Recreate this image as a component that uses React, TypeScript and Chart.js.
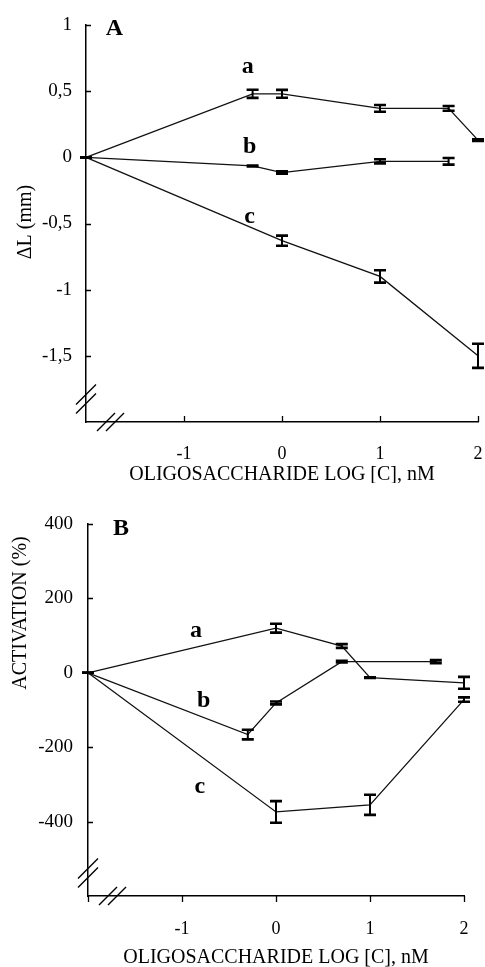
import React, { useEffect, useRef } from 'react';
import { Chart, registerables } from 'chart.js';

Chart.register(...registerables);

// ---------------- Panel A : ΔL (mm) ----------------
const A_X_a = [-2, -0.3, 0, 1, 1.7, 2];
const A_Y_a = [0, 0.48, 0.48, 0.37, 0.37, 0.13];
const A_E_a = [0, 0.031, 0.03, 0.025, 0.018, 0.007];

const A_X_b = [-2, -0.3, 0, 1, 1.7];
const A_Y_b = [0, -0.065, -0.115, -0.03, -0.03];
const A_E_b = [0, 0.003, 0.009, 0.016, 0.025];

const A_X_c = [-2, 0, 1, 2];
const A_Y_c = [0, -0.63, -0.9, -1.5];
const A_E_c = [0, 0.038, 0.047, 0.091];

const A_Y_TICKS = [1, 0.5, 0, -0.5, -1, -1.5];
const A_X_TICKS = [-1, 0, 1, 2];
const A_X_MARKS = [-1, 0, 1, 2];

// ---------------- Panel B : ACTIVATION (%) ----------------
const B_X_a = [-2, 0, 0.7, 1, 2];
const B_Y_a = [0, 120, 72, -13, -27];
const B_E_a = [0, 12, 5, 1, 16];

const B_X_b = [-2, -0.3, 0, 0.7, 1.7];
const B_Y_b = [0, -166, -81, 30, 30];
const B_E_b = [0, 13, 4, 2, 4];

const B_X_c = [-2, 0, 1, 2];
const B_Y_c = [0, -374, -355, -72];
const B_E_c = [0, 29, 27, 6];

const B_Y_TICKS = [400, 200, 0, -200, -400];
const B_X_TICKS = [-1, 0, 1, 2];
const B_X_MARKS = [-2, -1, 0, 1, 2];

// ---------------- Text ----------------
const X_TITLE = 'OLIGOSACCHARIDE LOG [C], nM';
const A_Y_TITLE = 'ΔL (mm)';
const B_Y_TITLE = 'ACTIVATION (%)';
const SERIES_NAMES = ['a', 'b', 'c'];

// annotation anchors (data units, text baseline)
const A_NOTE_X = [-0.35, -0.33, -0.33];
const A_NOTE_Y = [0.634, 0.03, -0.498];
const B_NOTE_X = [-0.85, -0.77, -0.81];
const B_NOTE_Y = [97, -91, -322];
const A_PANEL = { text: 'A', x: -1.71, y: 0.928 };
const B_PANEL = { text: 'B', x: -1.65, y: 370 };

const FONT = '"Liberation Serif", "Times New Roman", serif';
const W = 485;

type Spec = {
  height: number;
  area: { left: number; top: number; right: number; bottom: number };
  xs: number[][];
  ys: number[][];
  es: number[][];
  yMin: number;
  yMax: number;
  yTicks: number[];
  xTicks: number[];
  xMarks: number[];
  xMarksOut: boolean;
  xTickPad: number;
  yTickPad: number;
  yTitle: string;
  yTitlePos: { x: number; y: number };
  xTitleBaseline: number;
  noteX: number[];
  noteY: number[];
  panel: { text: string; x: number; y: number };
};

function fmt(v: number) {
  return String(v).replace('.', ',');
}

function buildChart(canvas: HTMLCanvasElement, s: Spec) {
  const datasets = s.xs.map((xArr, k) => ({
    label: SERIES_NAMES[k],
    data: xArr.map((x, i) => ({ x, y: s.ys[k][i] })),
    errors: s.es[k],
    borderColor: '#111',
    borderWidth: 1.3,
    pointRadius: 0,
    fill: false,
    tension: 0,
    clip: false as any,
  }));

  const decor = {
    id: 'decor',
    afterDraw(chart: any) {
      const ctx = chart.ctx as CanvasRenderingContext2D;
      const xs = chart.scales.x;
      const ys = chart.scales.y;
      const { left, right, top, bottom } = chart.chartArea;
      ctx.save();
      ctx.strokeStyle = '#000';
      ctx.fillStyle = '#000';
      ctx.lineCap = 'butt';

      // error bars
      chart.data.datasets.forEach((ds: any) => {
        ds.data.forEach((p: any, i: number) => {
          const e = ds.errors[i];
          const px = xs.getPixelForValue(p.x);
          const y1 = ys.getPixelForValue(p.y + e);
          const y2 = ys.getPixelForValue(p.y - e);
          ctx.lineWidth = 2;
          ctx.beginPath();
          ctx.moveTo(px, y1);
          ctx.lineTo(px, y2);
          ctx.stroke();
          ctx.lineWidth = 2.6;
          ctx.beginPath();
          ctx.moveTo(px - 6, y1);
          ctx.lineTo(px + 6, y1);
          ctx.moveTo(px - 6, y2);
          ctx.lineTo(px + 6, y2);
          ctx.stroke();
        });
      });

      // tick marks
      ctx.lineWidth = 1.3;
      ctx.beginPath();
      s.yTicks.forEach((v) => {
        const py = Math.round(ys.getPixelForValue(v)) + 0.5;
        ctx.moveTo(left, py);
        ctx.lineTo(left + 5, py);
      });
      s.xMarks.forEach((v) => {
        const px = Math.round(xs.getPixelForValue(v)) + 0.5;
        ctx.moveTo(px, bottom);
        ctx.lineTo(px, s.xMarksOut ? bottom + 6 : bottom - 6);
      });
      ctx.stroke();

      // axis breaks
      ctx.lineWidth = 1.4;
      ctx.beginPath();
      [bottom - 27.5, bottom - 18.5].forEach((cy) => {
        ctx.moveTo(left - 10, cy + 10);
        ctx.lineTo(left + 10, cy - 10);
      });
      [left + 20, left + 29].forEach((cx) => {
        ctx.moveTo(cx - 9, bottom + 9);
        ctx.lineTo(cx + 9, bottom - 9);
      });
      ctx.stroke();

      // series labels
      ctx.textAlign = 'center';
      ctx.textBaseline = 'alphabetic';
      ctx.font = `bold 24px ${FONT}`;
      SERIES_NAMES.forEach((n, k) => {
        ctx.fillText(n, xs.getPixelForValue(s.noteX[k]), ys.getPixelForValue(s.noteY[k]));
      });
      ctx.font = `bold 24px ${FONT}`;
      ctx.fillText(s.panel.text, xs.getPixelForValue(s.panel.x), ys.getPixelForValue(s.panel.y));

      // axis titles
      ctx.font = `20px ${FONT}`;
      ctx.fillText(X_TITLE, (left + right) / 2, s.xTitleBaseline);
      ctx.save();
      ctx.translate(s.yTitlePos.x, s.yTitlePos.y);
      ctx.rotate(-Math.PI / 2);
      ctx.textBaseline = 'middle';
      ctx.fillText(s.yTitle, 0, 0);
      ctx.restore();

      ctx.restore();
    },
  };

  return new Chart(canvas, {
    type: 'line',
    data: { datasets: datasets as any },
    options: {
      animation: false,
      responsive: false,
      maintainAspectRatio: false,
      layout: {
        padding: { left: 0, top: s.area.top, right: W - s.area.right, bottom: 0 },
      },
      plugins: { legend: { display: false }, tooltip: { enabled: false }, title: { display: false } },
      scales: {
        x: {
          type: 'linear',
          min: -2,
          max: 2,
          afterBuildTicks: (sc: any) => {
            sc.ticks = s.xTicks.map((v) => ({ value: v }));
          },
          afterFit: (sc: any) => {
            sc.height = s.height - s.area.bottom;
            sc.paddingLeft = 0;
            sc.paddingRight = 0;
          },
          grid: { display: false, drawTicks: false },
          border: { display: true, color: '#000', width: 1.5 },
          ticks: {
            color: '#000',
            font: { family: FONT, size: 18 },
            padding: s.xTickPad,
            maxRotation: 0,
            autoSkip: false,
            callback: (v: any) => fmt(Number(v)),
          },
        },
        y: {
          type: 'linear',
          min: s.yMin,
          max: s.yMax,
          afterBuildTicks: (sc: any) => {
            sc.ticks = s.yTicks.map((v) => ({ value: v }));
          },
          afterFit: (sc: any) => {
            sc.width = s.area.left;
            sc.paddingTop = 0;
            sc.paddingBottom = 0;
          },
          grid: { display: false, drawTicks: false },
          border: { display: true, color: '#000', width: 1.5 },
          ticks: {
            color: '#000',
            font: { family: FONT, size: 19 },
            padding: s.yTickPad,
            autoSkip: false,
            callback: (v: any) => fmt(Number(v)),
          },
        },
      },
    },
    plugins: [decor],
  });
}

const SPEC_A: Spec = {
  height: 483,
  area: { left: 86, top: 25, right: 478, bottom: 422 },
  xs: [A_X_a, A_X_b, A_X_c],
  ys: [A_Y_a, A_Y_b, A_Y_c],
  es: [A_E_a, A_E_b, A_E_c],
  yMin: -2,
  yMax: 1,
  yTicks: A_Y_TICKS,
  xTicks: A_X_TICKS,
  xMarks: A_X_MARKS,
  xMarksOut: false,
  xTickPad: 21,
  yTickPad: 14,
  yTitle: A_Y_TITLE,
  yTitlePos: { x: 26, y: 222 },
  xTitleBaseline: 480,
  noteX: A_NOTE_X,
  noteY: A_NOTE_Y,
  panel: A_PANEL,
};

const SPEC_B: Spec = {
  height: 484,
  area: { left: 88, top: 41, right: 464, bottom: 413 },
  xs: [B_X_a, B_X_b, B_X_c],
  ys: [B_Y_a, B_Y_b, B_Y_c],
  es: [B_E_a, B_E_b, B_E_c],
  yMin: -600,
  yMax: 400,
  yTicks: B_Y_TICKS,
  xTicks: B_X_TICKS,
  xMarks: B_X_MARKS,
  xMarksOut: true,
  xTickPad: 22,
  yTickPad: 15,
  yTitle: B_Y_TITLE,
  yTitlePos: { x: 21, y: 130 },
  xTitleBaseline: 480,
  noteX: B_NOTE_X,
  noteY: B_NOTE_Y,
  panel: B_PANEL,
};

function Panel({ spec, top }: { spec: Spec; top: number }) {
  const ref = useRef<HTMLCanvasElement | null>(null);
  useEffect(() => {
    if (!ref.current) return;
    const c = buildChart(ref.current, spec);
    return () => c.destroy();
  }, [spec]);
  return (
    <canvas
      ref={ref}
      width={W}
      height={spec.height}
      style={{ position: 'absolute', left: 0, top, width: W, height: spec.height, display: 'block' }}
    />
  );
}

export default function App() {
  useEffect(() => {
    document.body.style.margin = '0';
  }, []);
  return (
    <div style={{ position: 'relative', width: W, height: 967, background: '#fff', overflow: 'hidden' }}>
      <Panel spec={SPEC_A} top={0} />
      <Panel spec={SPEC_B} top={483} />
    </div>
  );
}
